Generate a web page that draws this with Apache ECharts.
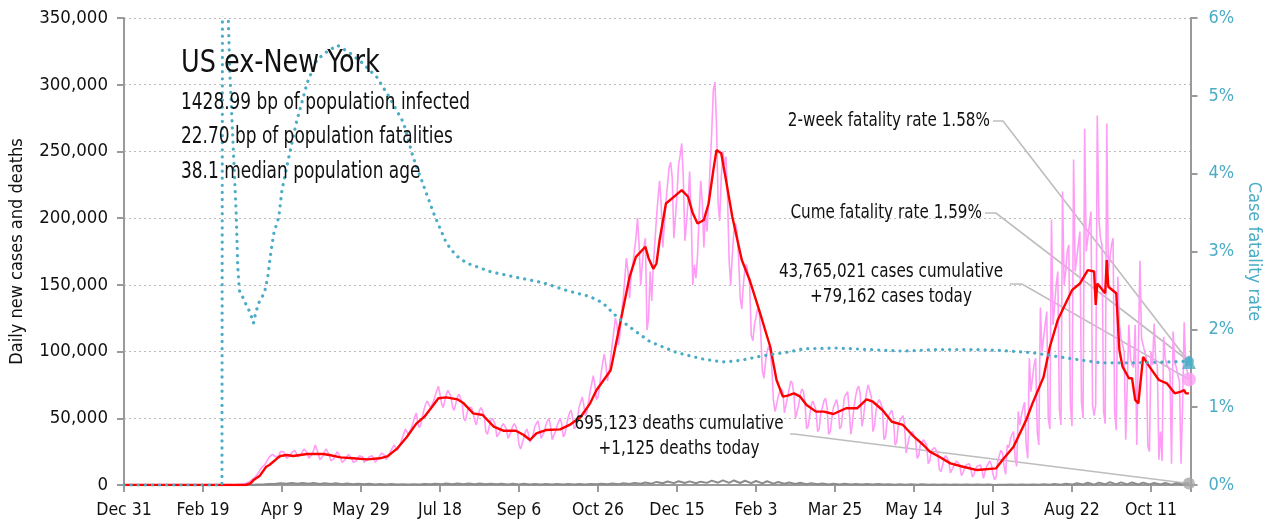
<!DOCTYPE html>
<html><head><meta charset="utf-8">
<script src="https://cdn.jsdelivr.net/npm/echarts@6/dist/echarts.min.js"></script>
<style>html,body{margin:0;padding:0;background:#fff}#c{width:1268px;height:527px}</style>
</head><body><div id="c"></div><script>
// x axis: days since Dec 31, 2019
const tickLabels = ["Dec 31","Feb 19","Apr 9","May 29","Jul 18","Sep 6","Oct 26","Dec 15","Feb 3","Mar 25","May 14","Jul 3","Aug 22","Oct 11"];
const UNIT = 1000;
// daily new cases (thousands), one row per week, first row starts on day 61 (Sun Mar 1, 2020)
const casesStartDay = 61;
const casesDailyK = [
 [0.1,0.1,0.1,0.2,0.2,0.3,0.4],[0.1,0.2,0.2,0.3,0.4,0.5,0.6],[0.7,0.9,1.1,1.6,2.2,3.0,4.0],[4.5,6,7.5,9,11,13,14],
 [15,17,19,21,22,23,24],[21,20,22,25,26,25,24],[20,19,22,24,25,26,24],[21,20,23,25,27,26,24],
 [20,21,23,26,30,27,23],[19,20,22,25,27,26,22],[18,18,20,23,25,23,21],[17,17,19,21,23,24,20],
 [17,16,18,20,22,22,21],[17,16,19,21,22,22,20],[17,17,20,22,24,23,22],[19,20,23,26,28,30,28],
 [26,27,31,35,38,42,40],[38,39,43,47,51,54,46],[43,46,52,57,61,63,60],[58,59,63,67,71,74,68],
 [61,58,63,68,71,70,66],[58,56,61,66,68,67,62],[50,48,53,58,59,58,54],[48,45,51,56,58,57,52],
 [40,38,43,48,50,48,45],[36,35,40,44,46,45,42],[35,34,40,44,46,44,40],[30,27,28,35,40,42,38],
 [32,33,38,44,46,48,42],[35,36,40,45,48,50,44],[34,35,40,44,47,50,46],[36,38,44,50,54,56,50],
 [42,44,50,58,62,66,60],[52,55,62,70,76,82,75],[64,66,74,84,92,98,90],[78,85,95,105,115,125,120],
 [105,115,130,140,155,170,160],[140,158,165,175,185,200,180],[150,165,178,185,116,125,160],[138,165,182,200,215,228,210],
 [178,195,212,225,238,242,230],[185,200,218,240,247,256,230],[183,196,212,235,200,150,165],[155,172,202,228,212,178,205],
 [190,212,240,265,296,302,270],[212,198,230,250,240,246,215],[168,150,172,190,196,190,170],[140,132,150,162,165,166,150],
 [112,108,120,126,132,130,114],[86,80,92,100,104,100,88],[64,55,60,66,70,72,70],[54,55,66,72,78,76,68],
 [50,50,60,68,72,70,62],[42,44,52,60,63,62,56],[40,42,54,58,63,65,58],[38,40,50,58,61,64,58],
 [42,44,56,66,68,70,56],[38,46,58,66,72,74,68],[44,50,62,70,75,76,66],[40,44,56,62,64,64,58],
 [34,36,48,52,54,56,50],[30,32,44,48,50,52,46],[24,25,36,38,40,40,34],[20,22,30,32,34,34,30],
 [16,18,26,26,28,28,24],[12,10,14,20,22,22,18],[9,10,14,16,18,17,15],[7,9,13,15,16,16,12],
 [6,8,12,14,15,15,11],[5,10,14,16,18,15,8],[4,6,18,22,26,24,14],[8,30,28,34,38,40,20],
 [14,55,45,52,58,62,30],[20,95,70,80,90,95,40],[30,133,100,110,120,130,50],[42,199,120,135,150,160,57],
 [45,220,150,160,175,180,60],[44,244,160,170,180,190,62],[50,267,175,185,195,205,60],[52,60,277,200,185,180,55],
 [46,271,160,170,180,185,55],[41,156,120,110,105,100,34],[34,120,95,90,88,120,30],[30,168,110,105,100,95,29],
 [25,100,90,121,92,90,19],[40,18,111,95,90,88,85],[16,115,92,88,82,78,16],[60,122,90,85,79.162]
];
// 7-day average of cases (day, thousands)
const avgDays = [0,77,80,82,86,90,92,97,99,103,107,116,126,130,137,145,154,162,167,173,179,185,190,195,199,204,211,215,221,227,234,240,248,253,257,261,267,276,282,289,295,299,308,314,320,324,330,332,335,337,339,343,348,353,357,360,363,367,370,373,375,378,381,385,391,396,402,409,413,417,420,424,428,432,438,443,449,457,464,470,474,480,486,493,500,506,510,516,523,531,540,552,556,563,569,571,575,582,586,591,597,600,605,610,614,615,616,621,622,623,628,630,632,636,638,640,642,645,649,652,655,660,665,669,671,672,674];
const avgK = [0,0,1.2,3.7,7,13.7,15,20,21.7,22.5,21.7,23.2,23.2,22.5,20.7,20,19.2,20,21.7,27.5,36,46,51,58.7,65,65.7,64.2,61.2,53.7,52.5,43.7,40.7,40.7,37.5,33.7,38.7,41.2,41.7,45,51,61.2,71,86,121,156,171,178.6,170,162,166,183.6,211,216,221,216,203.6,196,198.6,211,236,251,248.6,228.6,201,168.6,153.6,131,103.6,78.7,66.2,67,68.7,66.2,60,55,55,53.2,57.5,57.5,64.2,62.4,56.2,47.4,45,36.2,30,25,21.2,16.2,13.7,11.2,12.5,18.7,28.7,43.7,48.7,61.2,81,103.6,123.7,138.6,146,151,161,160,135,151,143.7,168.6,148.6,143.7,101,88.7,80,80,63.7,61.2,96,88.7,83.7,78.7,76.2,68.7,70,71.2,68.7,68.7];
// daily deaths (thousands): weekly [Sunday low, Wednesday high], first week starts day 61
const deathsWeeklyK = [
 [0,0],[0,0.01],[0.05,0.1],[0.2,0.4],[0.5,0.8],[0.9,1.4],[1.0,1.6],[0.9,1.5],[0.9,1.5],[0.8,1.4],
 [0.7,1.3],[0.6,1.1],[0.5,0.9],[0.5,0.9],[0.4,0.8],[0.35,0.7],[0.3,0.6],[0.3,0.6],[0.4,0.8],[0.5,1.0],
 [0.6,1.1],[0.6,1.2],[0.6,1.2],[0.6,1.1],[0.5,1.0],[0.5,1.0],[0.4,0.9],[0.4,0.9],[0.4,0.8],[0.4,0.8],
 [0.4,0.7],[0.4,0.7],[0.4,0.8],[0.4,0.8],[0.5,0.9],[0.5,1.1],[0.6,1.3],[0.8,1.6],[0.9,1.9],[1.0,2.3],
 [1.3,2.6],[1.4,2.8],[1.5,2.7],[1.3,2.5],[1.6,3.3],[1.7,3.5],[1.6,3.4],[1.5,3.2],[1.4,3.0],[1.2,2.8],
 [1.0,2.2],[0.9,1.9],[0.8,1.7],[0.6,1.4],[0.5,1.1],[0.4,1.0],[0.4,0.9],[0.3,0.7],[0.3,0.7],[0.3,0.7],
 [0.3,0.6],[0.25,0.6],[0.2,0.5],[0.2,0.5],[0.2,0.4],[0.15,0.35],[0.15,0.35],[0.12,0.3],[0.12,0.3],[0.1,0.3],
 [0.05,0.25],[0.1,0.3],[0.1,0.3],[0.1,0.4],[0.15,0.6],[0.2,0.8],[0.25,1.0],[0.3,1.3],[0.4,1.7],[0.3,1.8],
 [0.5,2.1],[0.5,2.0],[0.5,1.9],[0.4,1.8],[0.4,1.6],[0.35,1.5],[0.3,1.3],[0.3,1.2]
];
const lastDay = 674;
const deathsTodayK = 1.125;
// case fatality rate (%)
const cfrDays = [0,62,63,64,65,66,67,69,71,72,73,75,77,79,80,82,83,85,87,89,91,93,95,98,100,104,109,116,122,128,135,143,151,160,168,177,183,189,196,204,210,217,232,248,265,280,295,303,312,320,333,350,366,379,390,404,421,430,451,472,493,514,540,554,575,597,618,640,660,674];
const cfrPct = [0,0,20,14,9,6.0,5.3,4.4,3.5,2.8,2.5,2.42,2.33,2.25,2.2,2.08,2.18,2.33,2.4,2.48,2.67,3.0,3.25,3.44,3.79,4.18,4.65,5.17,5.46,5.56,5.65,5.55,5.42,5.24,4.98,4.65,4.21,3.88,3.49,3.11,2.95,2.85,2.74,2.67,2.6,2.5,2.42,2.34,2.16,2.03,1.84,1.70,1.62,1.58,1.60,1.66,1.71,1.75,1.76,1.74,1.72,1.74,1.74,1.73,1.70,1.63,1.57,1.57,1.58,1.59];
const twoWeekRate = 1.58, cumeRate = 1.59;
const casesToday = 79162;

const FONT = '"DejaVu Sans Condensed","Liberation Sans Narrow",sans-serif';
const TEAL = '#4bacc6', PINK = '#ff9cf5', RED = '#ff0000', GRAY = '#8c8c8c', AXIS = '#9a9a9a';

const casesData = casesDailyK.flat().map((v, i) => [casesStartDay + i, v * UNIT]);
const avgData = avgDays.map((d, i) => [d, avgK[i] * UNIT]);
const deathsData = [[0, 0], [60, 0]];
deathsWeeklyK.forEach((w, k) => { deathsData.push([casesStartDay + 7 * k, w[0] * UNIT]); deathsData.push([casesStartDay + 3 + 7 * k, w[1] * UNIT]); });
deathsData.push([lastDay, deathsTodayK * UNIT]);
const cfrData = cfrDays.map((d, i) => [d, cfrPct[i]]);

const chart = echarts.init(document.getElementById('c'), null, {renderer: 'canvas'});
chart.setOption({
  animation: false,
  backgroundColor: '#fff',
  grid: {left: 124, top: 18, width: 1066.5, height: 467, containLabel: false, outerBoundsMode: 'none'},
  xAxis: {
    type: 'value', min: 0, max: 675, interval: 50,
    axisLine: {lineStyle: {color: AXIS, width: 2}},
    axisTick: {length: 7, lineStyle: {color: AXIS, width: 2}},
    axisLabel: {color: '#111', fontSize: 17.5, fontFamily: FONT, margin: 16,
      formatter: v => (v % 50 === 0 && tickLabels[v / 50]) ? tickLabels[v / 50] : ''},
    splitLine: {show: false}
  },
  yAxis: [{
    type: 'value', min: 0, max: 350000, interval: 50000,
    name: 'Daily new cases and deaths', nameLocation: 'middle', nameGap: 98, nameRotate: 90,
    nameTextStyle: {color: '#111', fontSize: 18, fontFamily: FONT},
    axisLine: {show: true, lineStyle: {color: AXIS, width: 2}},
    axisTick: {show: true, length: 7, lineStyle: {color: AXIS, width: 2}},
    axisLabel: {color: '#111', fontSize: 18.5, fontFamily: FONT, margin: 16, formatter: v => v.toLocaleString('en-US')},
    splitLine: {show: true, lineStyle: {color: '#bbbbbb', type: [2, 3], width: 1}}
  }, {
    type: 'value', min: 0, max: 6, interval: 1, position: 'right',
    name: 'Case fatality rate', nameLocation: 'middle', nameGap: 52, nameRotate: -90,
    nameTextStyle: {color: TEAL, fontSize: 18, fontFamily: FONT},
    axisLine: {show: true, lineStyle: {color: AXIS, width: 2}},
    axisTick: {show: true, length: 7, lineStyle: {color: AXIS, width: 2}},
    axisLabel: {color: TEAL, fontSize: 18, fontFamily: FONT, margin: 18, formatter: '{value}%'},
    splitLine: {show: false}
  }],
  series: [
    {type: 'line', name: 'Daily cases', data: casesData, showSymbol: false, symbol: 'none',
      lineStyle: {color: PINK, width: 1.6}, z: 2},
    {type: 'line', name: 'Deaths', data: deathsData, showSymbol: false, symbol: 'none',
      lineStyle: {color: GRAY, width: 2}, z: 3},
    {type: 'line', name: '7-day average', data: avgData, showSymbol: false, symbol: 'none',
      lineStyle: {color: RED, width: 2.4}, z: 4},
    {type: 'line', name: 'CFR', yAxisIndex: 1, data: cfrData, showSymbol: false, symbol: 'none',
      lineStyle: {color: TEAL, width: 3.2, type: [0.1, 7], cap: 'round'}, z: 5},
    {type: 'scatter', yAxisIndex: 0, data: [[lastDay, casesToday]], symbol: 'circle', symbolSize: 14,
      itemStyle: {color: PINK}, z: 6},
    {type: 'scatter', yAxisIndex: 0, data: [[lastDay, deathsTodayK * UNIT]], symbol: 'circle', symbolSize: 12,
      itemStyle: {color: '#a6a6a6'}, z: 6},
    {type: 'scatter', yAxisIndex: 1, data: [[lastDay, twoWeekRate]], symbol: 'triangle', symbolSize: 14,
      itemStyle: {color: TEAL}, z: 7},
    {type: 'scatter', yAxisIndex: 1, data: [[lastDay, cumeRate]], symbol: 'circle', symbolSize: 10,
      itemStyle: {color: TEAL}, z: 7}
  ]
});

const pCases = chart.convertToPixel({xAxisIndex: 0, yAxisIndex: 0}, [lastDay, casesToday]);
const pDeaths = chart.convertToPixel({xAxisIndex: 0, yAxisIndex: 0}, [lastDay, deathsTodayK * UNIT]);
const pTwo = chart.convertToPixel({xAxisIndex: 0, yAxisIndex: 1}, [lastDay, twoWeekRate]);
const pCume = chart.convertToPixel({xAxisIndex: 0, yAxisIndex: 1}, [lastDay, cumeRate]);

const txt = (text, x, y, size, sx, align) => ({type: 'text', z: 10, silent: true, x, y, scaleX: sx,
  style: {text, x: 0, y: 0, fontSize: size, fontFamily: FONT, fill: '#111', align: align || 'left', verticalAlign: 'middle'}});
const lead = pts => ({type: 'polyline', z: 1, silent: true, shape: {points: pts},
  style: {stroke: '#bdbdbd', lineWidth: 1.6, fill: null}});

chart.setOption({graphic: [
  txt('US ex-New York', 181, 64, 31.5, 0.9),
  txt('1428.99 bp of population infected', 181, 103, 23, 0.82),
  txt('22.70 bp of population fatalities', 181, 137, 23, 0.82),
  txt('38.1 median population age', 181, 172, 23, 0.82),
  txt('2-week fatality rate 1.58%', 990, 121, 19, 0.89, 'right'),
  txt('Cume fatality rate 1.59%', 982, 213, 19, 0.89, 'right'),
  txt('43,765,021 cases cumulative', 891, 272, 19, 0.89, 'center'),
  txt('+79,162 cases today', 891, 297, 19, 0.89, 'center'),
  txt('695,123 deaths cumulative', 679, 424, 19, 0.89, 'center'),
  txt('+1,125 deaths today', 679, 449, 19, 0.89, 'center'),
  lead([[993, 121], [1003, 121], pTwo]),
  lead([[985, 213], [996, 213], pCume]),
  lead([[1010, 284], [1022, 284], pCases]),
  lead([[790, 434], [794, 434], pDeaths])
]});
</script></body></html>
